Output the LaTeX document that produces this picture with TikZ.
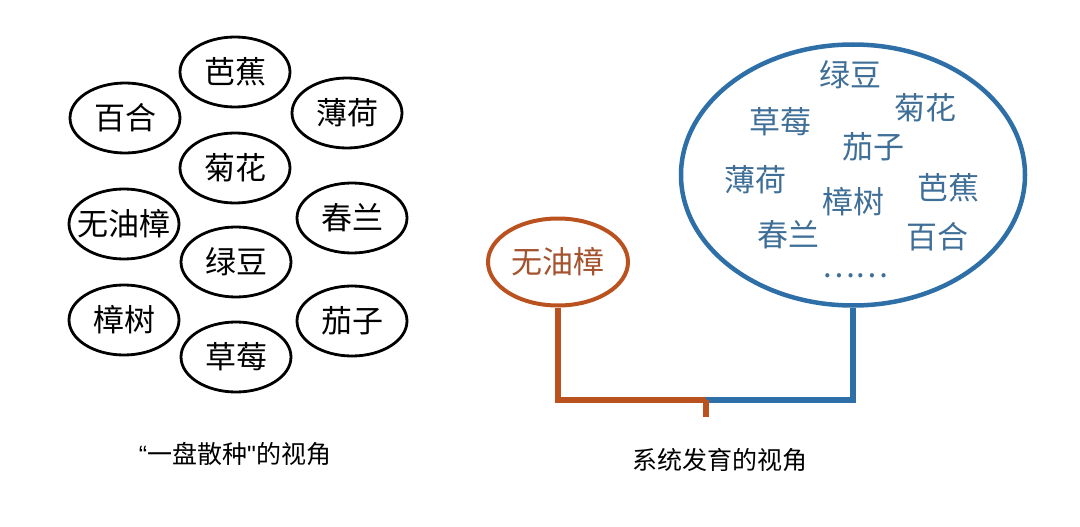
\documentclass[tikz,border=0pt]{standalone}
\usepackage{fontspec}
\setmainfont{Noto Sans CJK SC}[Ligatures=ResetAll]
\newfontfamily\latinfont{Liberation Sans}[Ligatures=ResetAll]
\usepackage{xcolor}
\usetikzlibrary{shapes.geometric, positioning, calc}

\definecolor{treeorange}{HTML}{B9521F}
\definecolor{treeblue}{HTML}{2E6FA7}
\definecolor{nameblue}{HTML}{3F6F97}
\definecolor{nameorange}{HTML}{A4532E}

\begin{document}
\begin{tikzpicture}[
    x=1pt, y=-1pt,
    every node/.style={font=\fontsize{31}{36}\selectfont},
    plant/.style={ellipse, draw, line width=2.8pt, minimum width=110pt,
                  minimum height=70pt, inner sep=-8pt},
    outgroup/.style={ellipse, draw=treeorange, line width=4pt, minimum width=140pt,
                     minimum height=87pt, inner sep=0pt, text=nameorange},
    clade/.style={ellipse, draw=treeblue, line width=4.5pt, minimum width=344pt,
                  minimum height=261pt, inner sep=0pt},
    member/.style={text=nameblue},
    caption/.style={font=\fontsize{25}{30}\selectfont},
    orangebranch/.style={draw=treeorange, line width=6pt, line join=miter},
    bluebranch/.style={draw=treeblue, line width=6pt, line join=miter}
]
\useasboundingbox (0,0) rectangle (1080,527);

% Left: every plant on its own
\node[plant] (bajiao) at (235,72) {芭蕉};
\node[plant] (baihe) at (125,118) {百合};
\node[plant] (bohe) at (347,113) {薄荷};
\node[plant] (juhua) at (235,168) {菊花};
\node[plant] (wuyouzhang) at (124,224) {无油樟};
\node[plant] (chunlan) at (352,218) {春兰};
\node[plant] (lvdou) at (236,262) {绿豆};
\node[plant] (zhangshu) at (124,320) {樟树};
\node[plant] (qiezi) at (352,321) {茄子};
\node[plant] (caomei) at (236,357) {草莓};

\node[caption] (leftcap) at (235,454) {{\latinfont “}一盘散种{\latinfont "}的视角};

% Right: outgroup and the rest of the flowering plants
\node[outgroup] (outer) at (558,262) {无油樟};
\node[clade] (rest) at (853,175) {};

\node[member] (m-lvdou) at (850,75) {绿豆};
\node[member] (m-juhua) at (925,108) {菊花};
\node[member] (m-caomei) at (780,122) {草莓};
\node[member] (m-qiezi) at (873,147) {茄子};
\node[member] (m-bohe) at (755,180) {薄荷};
\node[member] (m-bajiao) at (948,188) {芭蕉};
\node[member] (m-zhangshu) at (853,202) {樟树};
\node[member] (m-chunlan) at (788,235) {春兰};
\node[member] (m-baihe) at (937,237) {百合};
\node[member] (m-more) at (855,276) {……};

% Tree branches
\coordinate (split) at (706,400);
\coordinate (root) at (706,417);
\draw[orangebranch] (outer.south) |- (split);
\draw[bluebranch] (rest.south) |- (split);
\draw[orangebranch] (split) -- (root);

\node[caption] (rightcap) at (720,460) {系统发育的视角};

\end{tikzpicture}
\end{document}
